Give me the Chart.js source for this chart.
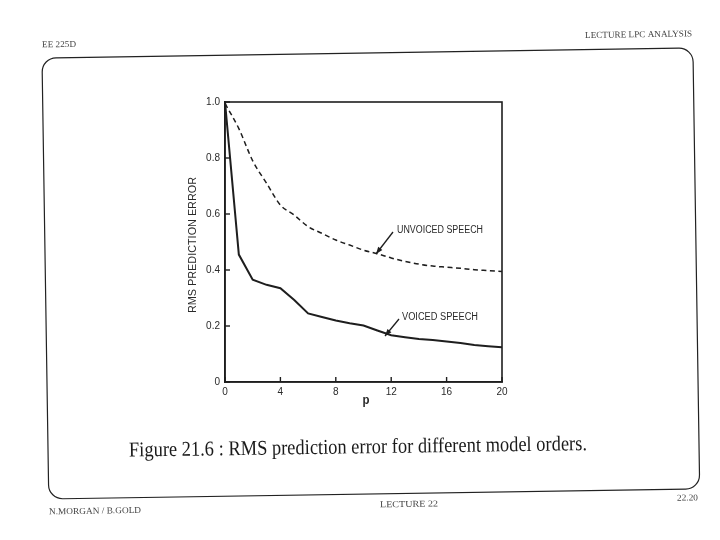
<!DOCTYPE html>
<html><head><meta charset="utf-8">
<script src="https://cdn.jsdelivr.net/npm/chart.js@4.4.0/dist/chart.umd.min.js"></script>
<style>html,body{margin:0;padding:0;background:#fff;}canvas{display:block;}</style>
</head><body>
<canvas id="c" width="720" height="540"></canvas>
<script>
const modelOrders = [0,1,2,3,4,5,6,7,8,9,10,11,12,13,14,15,16,17,18,19,20];
const voicedError = [1.0,0.455,0.365,0.347,0.335,0.293,0.245,0.232,0.22,0.21,0.202,0.184,0.167,0.16,0.154,0.15,0.145,0.139,0.132,0.128,0.124];
const unvoicedError = [0.995,0.905,0.79,0.71,0.632,0.596,0.555,0.531,0.507,0.489,0.471,0.458,0.443,0.431,0.421,0.414,0.41,0.406,0.401,0.398,0.395];
const xTickValues = [0,4,8,12,16,20];
const yTickValues = [0,0.2,0.4,0.6,0.8,1.0];
const yTickLabels = ['0','0.2','0.4','0.6','0.8','1.0'];
const seriesNames = ['VOICED SPEECH','UNVOICED SPEECH'];
const yAxisTitle = 'RMS PREDICTION ERROR';
const xAxisTitle = 'p';
const captionText = 'Figure 21.6 : RMS prediction error for different model orders.';

const INK = '#1e1e1e';

function fitText(ctx, text, x, y, width, size, family, weight, align, angle, color) {
  ctx.save();
  ctx.translate(x, y);
  ctx.rotate(angle * Math.PI / 180);
  ctx.font = `${weight} ${size}px ${family}`;
  const m = ctx.measureText(text).width;
  const sx = width / m;
  ctx.scale(sx, 1);
  ctx.fillStyle = color;
  ctx.textBaseline = 'middle';
  let ox = 0;
  if (align === 'right') ox = -m;
  else if (align === 'center') ox = -m / 2;
  ctx.textAlign = 'left';
  ctx.fillText(text, ox, 0);
  ctx.restore();
}

function arrow(ctx, x1, y1, x2, y2) {
  ctx.save();
  ctx.strokeStyle = INK; ctx.fillStyle = INK; ctx.lineWidth = 1.3;
  ctx.beginPath(); ctx.moveTo(x1, y1); ctx.lineTo(x2, y2); ctx.stroke();
  const a = Math.atan2(y2 - y1, x2 - x1);
  const L = 7, W = 2.6;
  ctx.beginPath();
  ctx.moveTo(x2, y2);
  ctx.lineTo(x2 - L * Math.cos(a) + W * Math.sin(a), y2 - L * Math.sin(a) - W * Math.cos(a));
  ctx.lineTo(x2 - L * Math.cos(a) - W * Math.sin(a), y2 - L * Math.sin(a) + W * Math.cos(a));
  ctx.closePath(); ctx.fill();
  ctx.restore();
}

const decor = {
  id: 'decor',
  afterDraw(chart) {
    const ctx = chart.ctx;
    const a = chart.chartArea;
    const xs = chart.scales.x, ys = chart.scales.y;
    ctx.save();
    ctx.strokeStyle = INK; ctx.lineWidth = 1.6;
    ctx.strokeRect(a.left, a.top, a.right - a.left, a.bottom - a.top);
    ctx.lineWidth = 1.4;
    xTickValues.forEach(v => {
      const px = xs.getPixelForValue(v);
      ctx.beginPath(); ctx.moveTo(px, a.bottom); ctx.lineTo(px, a.bottom - 5); ctx.stroke();
    });
    yTickValues.forEach(v => {
      const py = ys.getPixelForValue(v);
      ctx.beginPath(); ctx.moveTo(a.left, py); ctx.lineTo(a.left + 5, py); ctx.stroke();
    });
    ctx.restore();

    fitText(ctx, yAxisTitle, 193, 245, 136, 10, '"Liberation Sans"', 'normal', 'center', -90, '#2a2a2a');
    fitText(ctx, xAxisTitle, 366, 401, 7, 12, '"Liberation Sans"', 'bold', 'center', 0, '#2a2a2a');

    fitText(ctx, seriesNames[1], 397, 230, 86, 10, '"Liberation Sans"', 'normal', 'left', 0, '#2a2a2a');
    fitText(ctx, seriesNames[0], 402, 317, 76, 10, '"Liberation Sans"', 'normal', 'left', 0, '#2a2a2a');
    arrow(ctx, 393, 232, 376, 254);
    arrow(ctx, 399, 319, 385, 336);

    ctx.save();
    ctx.translate(42, 58);
    ctx.rotate(-0.88 * Math.PI / 180);
    ctx.strokeStyle = '#222'; ctx.lineWidth = 1.2;
    ctx.beginPath();
    ctx.roundRect(0, 0, 651, 441, 14);
    ctx.stroke();
    ctx.restore();

    fitText(ctx, 'EE 225D', 42, 45, 34, 9, '"Liberation Serif"', 'normal', 'left', -0.9, '#444');
    fitText(ctx, 'LECTURE LPC ANALYSIS', 692, 34, 107, 9, '"Liberation Serif"', 'normal', 'right', -0.9, '#444');
    fitText(ctx, 'N.MORGAN / B.GOLD', 49, 512, 92, 9, '"Liberation Serif"', 'normal', 'left', -0.9, '#444');
    fitText(ctx, 'LECTURE 22', 380, 505, 58, 9, '"Liberation Serif"', 'normal', 'left', -0.9, '#444');
    fitText(ctx, '22.20', 698, 498, 21, 9, '"Liberation Serif"', 'normal', 'right', -0.9, '#444');

    fitText(ctx, captionText, 129, 451, 458, 21, '"Liberation Serif"', 'normal', 'left', -0.8, '#1a1a1a');
  }
};

new Chart(document.getElementById('c'), {
  type: 'line',
  data: {
    datasets: [
      {
        label: seriesNames[0],
        data: modelOrders.map((p, i) => ({ x: p, y: voicedError[i] })),
        borderColor: INK, borderWidth: 2, pointRadius: 0,
        tension: 0, fill: false
      },
      {
        label: seriesNames[1],
        data: modelOrders.map((p, i) => ({ x: p, y: unvoicedError[i] })),
        borderColor: INK, borderWidth: 1.5, borderDash: [5, 3.5], pointRadius: 0,
        cubicInterpolationMode: 'monotone', fill: false
      }
    ]
  },
  options: {
    responsive: false,
    animation: false,
    layout: { padding: { left: 187, right: 218, top: 102, bottom: 138 } },
    plugins: { legend: { display: false }, tooltip: { enabled: false } },
    scales: {
      x: {
        type: 'linear', min: 0, max: 20,
        afterBuildTicks: s => { s.ticks = xTickValues.map(v => ({ value: v })); },
        afterFit: s => { s.height = 20; },
        grid: { display: true, drawOnChartArea: false, drawTicks: false },
        border: { display: true, color: INK, width: 1.6 },
        ticks: { padding: 4, color: '#2a2a2a', font: { family: '"Liberation Sans"', size: 10 }, maxRotation: 0 }
      },
      y: {
        type: 'linear', min: 0, max: 1,
        afterBuildTicks: s => { s.ticks = yTickValues.map(v => ({ value: v })); },
        afterFit: s => { s.width = 38; },
        grid: { display: true, drawOnChartArea: false, drawTicks: false },
        border: { display: true, color: INK, width: 1.6 },
        ticks: {
          padding: 5, color: '#2a2a2a', font: { family: '"Liberation Sans"', size: 10 },
          callback: (v) => { const i = yTickValues.indexOf(v); return i >= 0 ? yTickLabels[i] : ''; }
        }
      }
    }
  },
  plugins: [decor]
});
</script>
</body></html>
